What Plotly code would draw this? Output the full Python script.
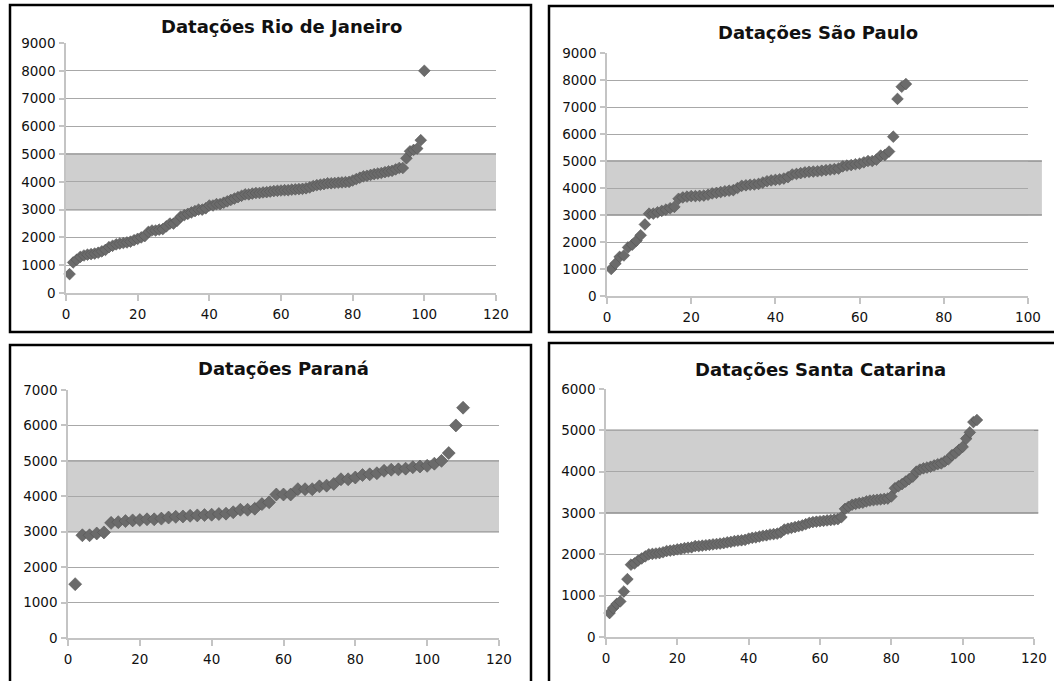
import plotly.graph_objects as go

W, H = 1054, 681

# ---------------- data ----------------
rj_vals = [680, 1100, 1200, 1300, 1350, 1380, 1400, 1420, 1450, 1500,
           1550, 1650, 1700, 1750, 1780, 1800, 1820, 1850, 1900, 1950,
           2000, 2050, 2200, 2250, 2250, 2280, 2300, 2400, 2500, 2500,
           2600, 2750, 2800, 2850, 2900, 2950, 3000, 3000, 3050, 3150,
           3150, 3200, 3200, 3250, 3300, 3350, 3400, 3450, 3500, 3550,
           3550, 3580, 3600, 3600, 3620, 3630, 3650, 3670, 3680, 3690,
           3700, 3700, 3720, 3730, 3740, 3750, 3770, 3800, 3850, 3880,
           3900, 3920, 3950, 3950, 3960, 3970, 3980, 3990, 4000, 4050,
           4100, 4150, 4200, 4220, 4250, 4280, 4300, 4320, 4350, 4380,
           4400, 4450, 4500, 4500, 4850, 5100, 5150, 5200, 5500, 8000]
rj_x = list(range(1, len(rj_vals) + 1))

sp_vals = [1000, 1200, 1450, 1500, 1800, 1900, 2050, 2250, 2650, 3050,
           3050, 3100, 3150, 3200, 3250, 3300, 3600, 3650, 3680, 3700,
           3700, 3710, 3720, 3750, 3800, 3820, 3850, 3880, 3900, 3920,
           4000, 4080, 4100, 4120, 4130, 4150, 4200, 4250, 4280, 4300,
           4320, 4350, 4400, 4500, 4520, 4550, 4580, 4600, 4610, 4620,
           4640, 4660, 4680, 4700, 4720, 4800, 4830, 4850, 4880, 4900,
           4950, 5000, 5000, 5050, 5200, 5220, 5350, 5900, 7300, 7750, 7850]
sp_x = list(range(1, len(sp_vals) + 1))

pr_x = list(range(2, 111, 2))
pr_vals = [1520, 2900, 2900, 2950, 2980, 3250, 3270, 3300, 3320, 3330,
           3350, 3350, 3370, 3400, 3420, 3430, 3450, 3460, 3470, 3480,
           3500, 3510, 3550, 3620, 3620, 3650, 3780, 3830, 4050, 4050,
           4050, 4200, 4200, 4200, 4280, 4300, 4350, 4480, 4480, 4530,
           4600, 4620, 4650, 4720, 4750, 4760, 4780, 4820, 4840, 4860,
           4920, 5000, 5220, 6000, 6500]

sc_vals = [580, 700, 800, 860, 1100, 1400, 1750, 1780, 1850, 1900,
           1950, 2000, 2010, 2020, 2030, 2050, 2080, 2090, 2100, 2120,
           2130, 2150, 2160, 2170, 2200, 2200, 2210, 2220, 2230, 2240,
           2250, 2260, 2270, 2290, 2300, 2320, 2330, 2340, 2350, 2380,
           2400, 2410, 2430, 2450, 2460, 2480, 2490, 2500, 2530, 2600,
           2620, 2640, 2660, 2680, 2700, 2730, 2760, 2780, 2790, 2800,
           2810, 2820, 2830, 2840, 2850, 2900, 3100, 3150, 3200, 3220,
           3240, 3250, 3280, 3300, 3310, 3320, 3330, 3340, 3350, 3400,
           3600, 3650, 3700, 3760, 3820, 3880, 4000, 4050, 4080, 4100,
           4120, 4150, 4180, 4200, 4250, 4300, 4400, 4450, 4530, 4600,
           4800, 4950, 5200, 5250]
sc_x = list(range(1, len(sc_vals) + 1))

titles = ["Datações Rio de Janeiro", "Datações São Paulo",
          "Datações Paraná", "Datações Santa Catarina"]
x_ranges = [[0, 120], [0, 100], [0, 120], [0, 120]]
y_ranges = [[0, 9000], [0, 9000], [0, 7000], [0, 6000]]
band_low, band_high = 3000, 5000

series = [(rj_x, rj_vals), (sp_x, sp_vals), (pr_x, pr_vals), (sc_x, sc_vals)]

# ---------------- layout geometry (pixels) ----------------
areas = [(66, 496, 43, 293), (607, 1028, 53, 296),
         (68, 499, 390, 638), (606, 1034, 389, 637)]
frames = [(10, 531, 5, 332), (549, 1058, 6, 332),
          (10, 531, 345, 686), (549, 1058, 343, 686)]
title_y = [27, 32, 368, 369]
band_right = [1.0, 1.033, 1.0, 1.01]
marker_sizes = [9, 9, 10, 9]


def px(x):
    return x / W


def py(y):
    return 1 - y / H


fig = go.Figure()
layout = dict(
    width=W, height=H, margin=dict(l=0, r=0, t=0, b=0, pad=0, autoexpand=False),
    paper_bgcolor="white", plot_bgcolor="rgba(0,0,0,0)",
    showlegend=False,
    font=dict(family="DejaVu Sans", size=13.5, color="#111111"),
)
shapes = []
annotations = []
axis_color = "#c4c4c4"
grid_color = "#a8a8a8"

for i, ((xs, ys), (l, r, t, b)) in enumerate(zip(series, areas)):
    n = "" if i == 0 else str(i + 1)
    xa, ya = "x" + n, "y" + n
    fig.add_trace(go.Scatter(
        x=xs, y=ys, mode="markers", xaxis=xa, yaxis=ya,
        marker=dict(symbol="diamond", size=marker_sizes[i], color="#6b6b6b",
                    line=dict(width=0.6, color="#555555")),
        cliponaxis=False, hoverinfo="x+y",
    ))
    layout["xaxis" + n] = dict(
        domain=[px(l), px(r)], range=x_ranges[i], anchor=ya,
        dtick=20, showgrid=False, zeroline=False, automargin=False,
        showline=True, linecolor=axis_color, linewidth=1.5,
        ticks="outside", ticklen=6, tickcolor=axis_color, tickwidth=1.5,
        ticklabelstandoff=2,
    )
    layout["yaxis" + n] = dict(
        domain=[py(b), py(t)], range=y_ranges[i], anchor=xa, automargin=False,
        dtick=1000, showgrid=True, gridcolor=grid_color, gridwidth=1,
        zeroline=False, showline=True, linecolor=axis_color, linewidth=1.5,
        ticks="outside", ticklen=5, tickcolor=axis_color, tickwidth=1.5,
        ticklabelstandoff=1,
    )
    shapes.append(dict(
        type="rect", xref=xa + " domain", yref=ya,
        x0=0, x1=band_right[i], y0=band_low, y1=band_high,
        fillcolor="#cfcfcf", line=dict(width=0), layer="below",
    ))
    for yv in (band_low, band_high):
        shapes.append(dict(
            type="line", xref=xa + " domain", yref=ya,
            x0=0, x1=band_right[i], y0=yv, y1=yv,
            line=dict(color="#8f8f8f", width=1.5), layer="below",
        ))
    fl, fr, ft, fb = frames[i]
    shapes.append(dict(
        type="rect", xref="paper", yref="paper",
        x0=px(fl), x1=px(fr), y0=py(fb), y1=py(ft),
        line=dict(color="black", width=2.5), fillcolor="rgba(0,0,0,0)",
    ))
    annotations.append(dict(
        text="<b>" + titles[i] + "</b>", xref="paper", yref="paper",
        x=px((l + r) / 2), y=py(title_y[i]), xanchor="center", yanchor="middle",
        showarrow=False, font=dict(family="DejaVu Sans", size=18, color="#111111"),
    ))

layout["shapes"] = shapes
layout["annotations"] = annotations
fig.update_layout(**layout)

page_fix = (
    "var de=document.documentElement, bd=document.body;"
    "[de, bd].forEach(function(e){e.style.margin='0';e.style.padding='0';"
    "e.style.overflow='hidden';e.style.height='681px';e.style.width='1054px';});"
    "var g=document.getElementById('{plot_id}');"
    "g.style.display='block';"
    "if(g.parentElement){g.parentElement.style.height='681px';"
    "g.parentElement.style.overflow='hidden';g.parentElement.style.lineHeight='0';}"
)
fig.write_html("out.html", post_script=page_fix,
               config={"displayModeBar": False})
